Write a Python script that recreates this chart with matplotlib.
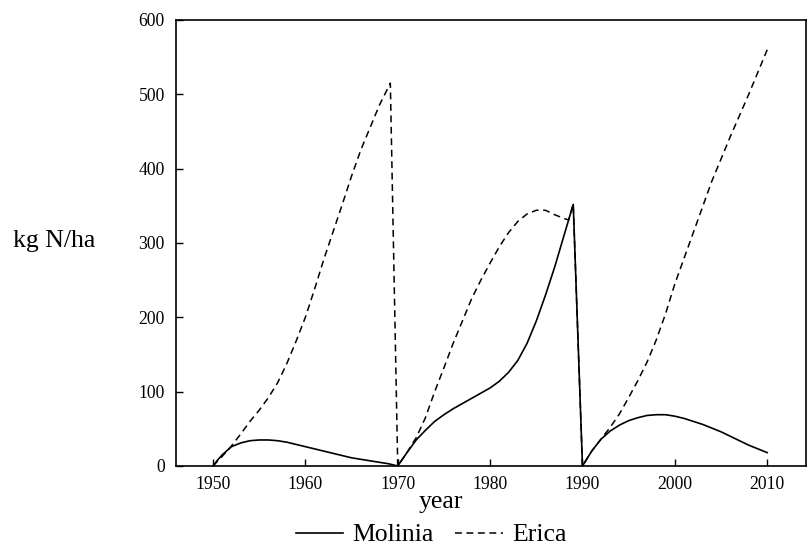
import matplotlib
matplotlib.use('Agg')
import matplotlib.pyplot as plt

plt.rcParams['font.family'] = ['Liberation Serif', 'DejaVu Serif']

# Molinia (solid)
molinia_year = [1950, 1950.5, 1951, 1952, 1953, 1954, 1955, 1956, 1957, 1958, 1959, 1960,
                1961, 1962, 1963, 1964, 1965, 1966, 1967, 1968, 1969, 1970,
                1971, 1972, 1973, 1974, 1975, 1976, 1977, 1978, 1979, 1980,
                1981, 1982, 1983, 1984, 1985, 1986, 1987, 1988, 1989, 1990,
                1991, 1992, 1993, 1994, 1995, 1996, 1997, 1998, 1999, 2000,
                2001, 2002, 2003, 2004, 2005, 2006, 2007, 2008, 2009, 2010]
molinia_kg = [0, 8, 15, 26, 31, 34, 35, 35, 34, 32, 29, 26,
              23, 20, 17, 14, 11, 9, 7, 5, 3, 0,
              18, 35, 48, 60, 69, 77, 84, 91, 98, 105,
              114, 126, 142, 165, 195, 230, 268, 310, 352, 0,
              20, 36, 47, 55, 61, 65, 68, 69, 69, 67,
              64, 60, 56, 51, 46, 40, 34, 28, 23, 18]

# Erica (dashed)
erica_year = [1950, 1951, 1952, 1953, 1954, 1955, 1956, 1957, 1958, 1959, 1960,
              1961, 1962, 1963, 1964, 1965, 1966, 1967, 1968, 1969.2, 1970,
              1971, 1972, 1973, 1974, 1975, 1976, 1977, 1978, 1979, 1980,
              1981, 1982, 1983, 1984, 1985, 1986, 1987, 1988, 1988.5, 1989, 1990,
              1991, 1992, 1993, 1994, 1995, 1996, 1997, 1998, 1999, 2000,
              2002, 2004, 2006, 2008, 2010]
erica_kg = [0, 13, 27, 43, 60, 75, 92, 112, 138, 168, 200,
            238, 278, 315, 352, 390, 425, 455, 485, 515, 0,
            18, 38, 65, 100, 132, 165, 195, 225, 250, 273,
            295, 314, 329, 339, 344, 344, 338, 333, 331, 352, 0,
            20, 36, 52, 70, 92, 115, 140, 170, 205, 245,
            314, 383, 443, 500, 560]

x_ticks = [1950, 1960, 1970, 1980, 1990, 2000, 2010]
y_ticks = [0, 100, 200, 300, 400, 500, 600]

fig = plt.figure(figsize=(8.09, 5.49), dpi=100)
ax = fig.add_axes([0.2176, 0.1512, 0.7787, 0.8124])

ax.plot(molinia_year, molinia_kg, color='black', lw=1.2, label='Molinia')
ax.plot(erica_year, erica_kg, color='black', lw=1.1, linestyle=(0, (4.5, 3)), label='Erica')

ax.set_xlim(1946.0, 2014.2)
ax.set_ylim(0, 600)
ax.set_xticks(x_ticks)
ax.set_yticks(y_ticks)
ax.tick_params(direction='in', length=5, width=1, labelsize=12.7, pad=7)
ax.tick_params(axis='y', pad=8)
for s in ax.spines.values():
    s.set_linewidth(1.2)

fig.text(13 / 809, 1 - 247 / 549, 'kg N/ha', fontsize=18.5, ha='left', va='baseline')
fig.text(441 / 809, 1 - 508 / 549, 'year', fontsize=18.5, ha='center', va='baseline')

fig.legend(loc='center', bbox_to_anchor=(0.533, 0.0255), ncol=2, frameon=False,
           fontsize=18.5, handlelength=1.84, handletextpad=0.36, columnspacing=0.84,
           borderpad=0.1)

fig.savefig('out.png', dpi=100)
